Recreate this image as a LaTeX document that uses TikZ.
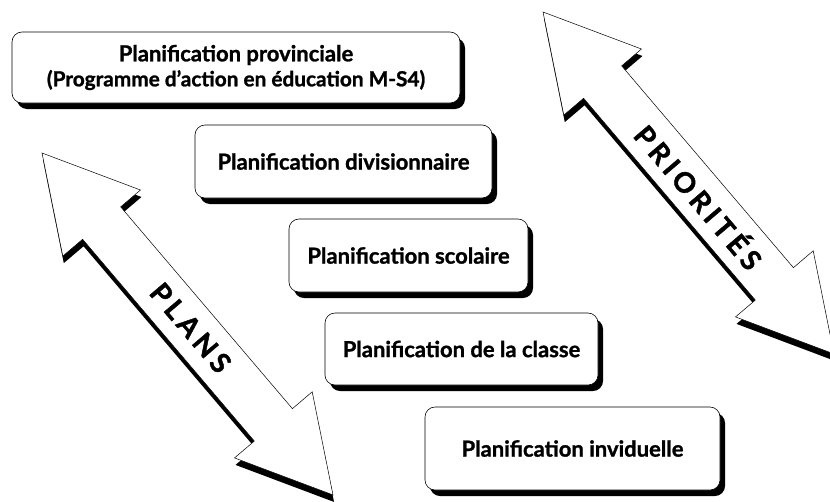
\documentclass[tikz,border=0pt]{standalone}
\usepackage{fontspec}
\setmainfont{Lato}[BoldFeatures={FakeBold=1.2}]
\newfontfamily\arrowfont[LetterSpace=17, BoldFeatures={FakeBold=1.5}]{Lato}
\usetikzlibrary{shadows}
\begin{document}
\begin{tikzpicture}[x=1pt,y=-1pt,
  box/.style={draw=black, line width=0.6pt, rounded corners=10pt, fill=white,
    align=center, inner sep=0pt, font=\bfseries\fontsize{22}{25}\selectfont,
    drop shadow={shadow xshift=5pt, shadow yshift=-6pt, opacity=1, fill=black}},
  arrowshape/.style={fill=white, draw=black, line width=0.5pt, line join=miter},
  arrowshadow/.style={fill=black},
  arrowtext/.style={font=\arrowfont\bfseries\fontsize{28}{30}\selectfont, rotate=-49.6, inner sep=0pt}
]
\useasboundingbox (0,0) rectangle (830,501);
\newcommand\dblarrowpath{(0,0) -- (92,51) -- (92,25) -- (357,25) -- (357,51) -- (449,0) -- (357,-51) -- (357,-25) -- (92,-25) -- (92,-51) -- cycle}
% PLANS arrow
\begin{scope}[shift={(43,160)}, rotate=-49.6]
  \fill[arrowshadow] \dblarrowpath;
\end{scope}
\begin{scope}[shift={(42,153)}, rotate=-49.6]
  \path[arrowshape] \dblarrowpath;
\end{scope}
\node[arrowtext] (plans) at (190.7,327.8) {PLANS};
% PRIORITES arrow
\begin{scope}[shift={(544,19)}, rotate=-49.6]
  \fill[arrowshadow] \dblarrowpath;
\end{scope}
\begin{scope}[shift={(543,12)}, rotate=-49.6]
  \path[arrowshape] \dblarrowpath;
\end{scope}
\node[arrowtext] (prio) at (700,196) {PRIORITÉS};
% boxes
\node[box, minimum width=448pt, minimum height=71pt] (b1) at (236,67.5)
  {Planification provinciale\\{\fontsize{20.8}{25}\selectfont(Programme d’action en éducation M-S4)}};
\node[box, minimum width=297pt, minimum height=73pt] (b2) at (343.5,161.5)
  {Planification divisionnaire};
\node[box, minimum width=239pt, minimum height=73pt] (b3) at (408.5,255.5)
  {Planification scolaire};
\node[box, minimum width=273pt, minimum height=72pt] (b4) at (461.5,349)
  {Planification de la classe};
\node[box, minimum width=295pt, minimum height=83pt] (b5) at (572.5,448.5)
  {Planification inviduelle};
\end{tikzpicture}
\end{document}
